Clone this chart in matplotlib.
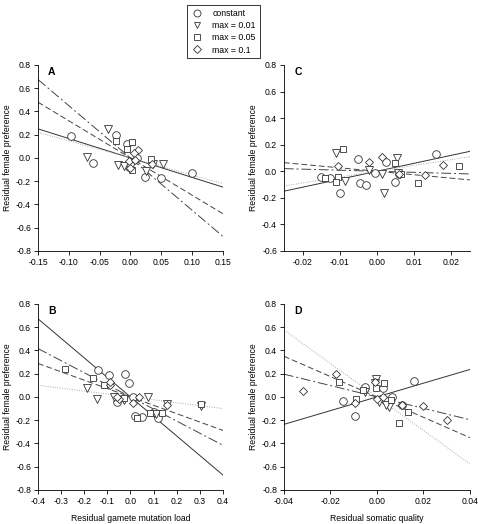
import numpy as np
import matplotlib
matplotlib.use("Agg")
import matplotlib.pyplot as plt
from matplotlib.lines import Line2D

plt.rcParams['font.family'] = ['Liberation Sans', 'DejaVu Sans']

groups = ['constant', 'max = 0.01', 'max = 0.05', 'max = 0.1']

# panel A: residual gamete mutation load (x) vs residual female preference (y)
a_x = [[-0.097, -0.06, -0.023, -0.005, -0.003, 0.01, 0.023, 0.05, 0.10, 0.0],
       [-0.07, -0.037, -0.02, 0.025, 0.052, 0.037, -0.01],
       [-0.023, 0.003, 0.033, 0.003, -0.005],
       [0.012, 0.005, -0.002, 0.0, 0.008, 0.035]]
a_y = [[0.19, -0.04, 0.20, 0.12, -0.08, 0.0, -0.16, -0.17, -0.13, -0.05],
       [0.01, 0.25, -0.06, -0.11, -0.05, -0.05, -0.07],
       [0.15, 0.14, -0.01, -0.10, 0.08],
       [0.07, 0.04, -0.03, -0.09, -0.02, -0.05]]
a_slope = [-1.67, -1.47, -3.2, -4.5]

# panel B
b_x = [[-0.14, -0.095, -0.025, -0.005, 0.01, 0.02, 0.05, 0.1, 0.12, -0.06],
       [-0.19, -0.145, -0.07, -0.03, 0.075, 0.16, 0.305, 0.11],
       [-0.285, -0.16, -0.115, -0.03, 0.03, 0.085, 0.135, 0.305],
       [-0.09, -0.09, -0.05, 0.01, 0.035, 0.16, -0.06]]
b_y = [[0.23, 0.19, 0.20, 0.12, 0.0, -0.16, -0.17, -0.13, -0.18, -0.04],
       [0.08, -0.02, 0.0, -0.03, 0.0, -0.06, -0.08, -0.15],
       [0.24, 0.16, 0.10, -0.01, -0.18, -0.14, -0.14, -0.06],
       [0.10, 0.13, -0.02, -0.05, 0.0, -0.07, 0.0]]
b_slope = [-1.68, -0.25, -0.72, -1.04]

# panel C: residual somatic quality (x)
c_x = [[-0.015, -0.0125, -0.0098, -0.005, -0.0045, -0.003, -0.0005, 0.0025, 0.005, 0.016, 0.006],
       [-0.011, -0.0085, -0.002, 0.0015, 0.002, 0.0055, 0.0058],
       [-0.014, -0.0105, -0.011, -0.009, 0.0048, 0.0065, 0.011, 0.022],
       [-0.0105, -0.002, 0.0015, 0.013, 0.0178, 0.006]]
c_y = [[-0.04, -0.05, -0.16, 0.09, -0.09, -0.10, -0.01, 0.07, -0.08, 0.13, -0.02],
       [0.14, -0.07, 0.01, -0.02, -0.16, 0.10, -0.01],
       [-0.05, -0.04, -0.08, 0.17, 0.06, -0.02, -0.09, 0.04],
       [0.04, 0.07, 0.11, -0.03, 0.05, -0.02]]
c_slope = [6.0, 4.4, -2.6, -0.8]

# panel D
d_x = [[-0.0145, -0.0095, -0.005, 0.0025, 0.0065, 0.016, 0.011, 0.0035],
       [-0.005, -0.0005, -0.001, 0.005, 0.004, 0.001],
       [-0.0165, -0.009, -0.0005, 0.003, 0.006, 0.0095, 0.0135, -0.006],
       [-0.032, -0.0175, -0.0095, -0.001, 0.0, 0.0025, 0.02, 0.03, 0.011]]
d_y = [[-0.035, -0.16, 0.085, 0.075, 0.0, 0.135, -0.07, -0.03],
       [0.04, 0.15, 0.12, -0.09, -0.07, -0.04],
       [0.13, -0.02, 0.08, 0.12, -0.03, -0.22, -0.13, 0.06],
       [0.05, 0.20, -0.05, 0.13, -0.02, 0.0, -0.08, -0.20, -0.07]]
d_slope = [5.9, -14.4, -8.75, -4.9]

markers = ['o', 'v', 's', 'D']
msizes = [5.5, 5.5, 5, 4.5]
line_styles = ['-', (0, (1, 1.5)), (0, (6, 3)), (0, (10, 3, 2, 3))]
line_colors = ['#333333', '#aaaaaa', '#444444', '#444444']

panels = [
    ('A', a_x, a_y, a_slope, (-0.15, 0.15), np.arange(-0.15, 0.151, 0.05), '%.2f', (-0.8, 0.8), [0.0795, 0.521, 0.387, 0.355], ''),
    ('C', c_x, c_y, c_slope, (-0.025, 0.025), np.arange(-0.02, 0.021, 0.01), '%.2f', (-0.6, 0.8), [0.594, 0.521, 0.389, 0.355], ''),
    ('B', b_x, b_y, b_slope, (-0.4, 0.4), np.arange(-0.4, 0.41, 0.1), '%.1f', (-0.8, 0.8), [0.0795, 0.065, 0.387, 0.355], 'Residual gamete mutation load'),
    ('D', d_x, d_y, d_slope, (-0.04, 0.04), np.arange(-0.04, 0.041, 0.02), '%.2f', (-0.8, 0.8), [0.594, 0.065, 0.389, 0.355], 'Residual somatic quality'),
]

fig = plt.figure(figsize=(4.78, 5.24), dpi=100)

for letter, xs, ys, slopes, xlim, xticks, fmt, ylim, pos, xlabel in panels:
    ax = fig.add_axes(pos)
    xx = np.array(xlim)
    for k in range(4):
        ax.plot(xx, slopes[k] * xx, linestyle=line_styles[k], color=line_colors[k], lw=0.7)
    for k in range(4):
        ax.plot(xs[k], ys[k], linestyle='none', marker=markers[k], ms=msizes[k],
                mfc='white', mec='#333333', mew=0.6)
    ax.set_xlim(xlim)
    ax.set_ylim(ylim)
    ax.set_xticks(xticks)
    ax.set_xticklabels([fmt % (0 if abs(t) < 1e-9 else t) for t in xticks])
    yt = np.arange(ylim[0], 0.81, 0.2)
    ax.set_yticks(yt)
    ax.set_yticklabels(['%.1f' % (0 if abs(t) < 1e-9 else t) for t in yt])
    for s in ['top', 'right']:
        ax.spines[s].set_visible(False)
    for s in ['left', 'bottom']:
        ax.spines[s].set_linewidth(0.6)
    ax.tick_params(labelsize=6.2, width=0.6, length=3, direction='out', pad=2)
    ax.set_ylabel('Residual female preference', fontsize=6.2, labelpad=3)
    if xlabel:
        ax.set_xlabel(xlabel, fontsize=6.2, labelpad=6)
    ax.text(0.075, 0.96, letter, transform=ax.transAxes, fontsize=7.5, fontweight='bold',
            va='center', ha='center')

handles = [Line2D([], [], linestyle='none', marker=markers[k], ms=msizes[k] - 0.5,
                  mfc='white', mec='#333333', mew=0.6) for k in range(4)]
leg = fig.legend(handles, groups, loc='upper center', bbox_to_anchor=(0.467, 0.998),
                 fontsize=6.3, frameon=True, fancybox=False, edgecolor='black',
                 handlelength=1.5, handletextpad=1.0, labelspacing=0.35, borderpad=0.45)
leg.get_frame().set_linewidth(0.7)

fig.savefig('out.png', dpi=100)
